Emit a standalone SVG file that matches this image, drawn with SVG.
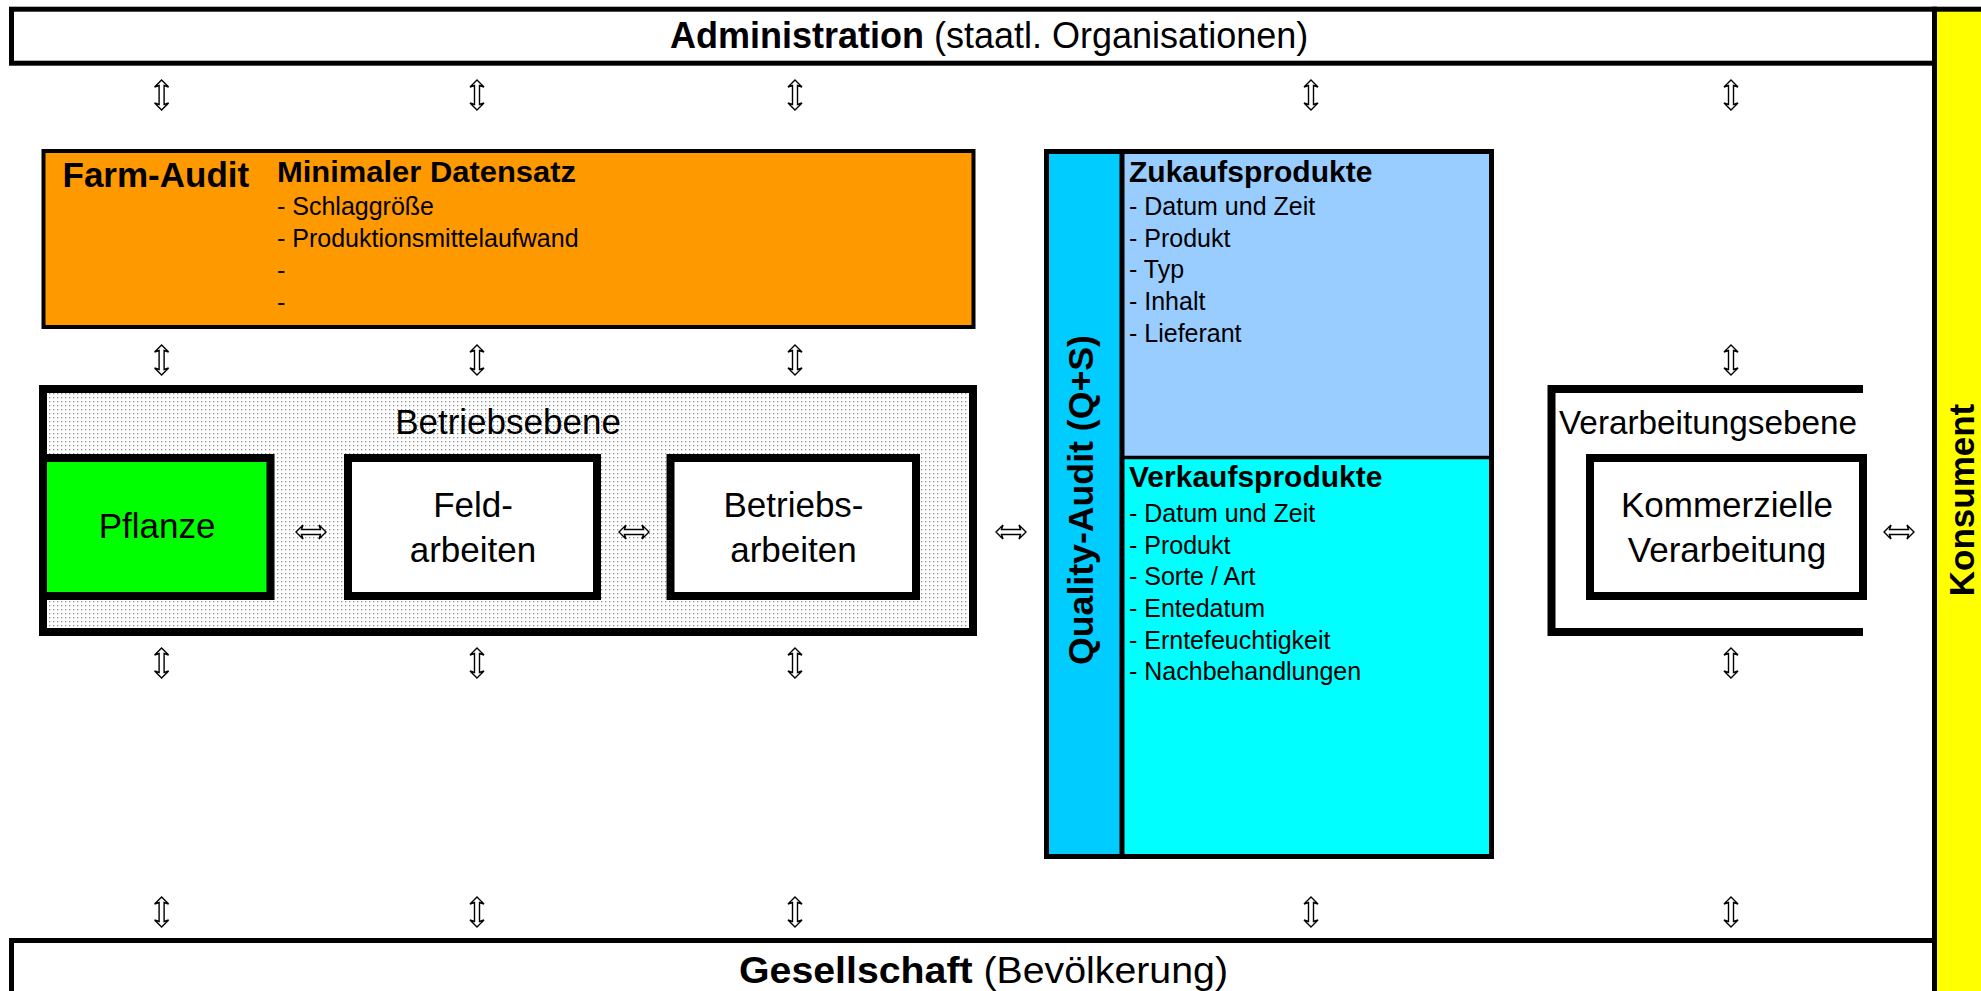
<svg xmlns="http://www.w3.org/2000/svg" width="1981" height="991" viewBox="0 0 1981 991">
<style>
text{font-family:"Liberation Sans",Arial,sans-serif;fill:#000}
.b{font-weight:bold}
.big{font-size:35px}
.hd{font-size:30px;font-weight:bold}
.it{font-size:25px}
.box{stroke:#000;stroke-width:8}
.ar{fill:#fff;stroke:#000;stroke-width:1.4;stroke-linejoin:miter}
</style>
<defs>
<pattern id="dots" width="4" height="4" patternUnits="userSpaceOnUse">
<rect width="4" height="4" fill="#fff"/>
<rect x="1" y="1" width="1.3" height="1.3" fill="#8c8c8c"/>
</pattern>
<path id="va" class="ar" d="M0,-15 L7,-8 L2.5,-9.5 L2.5,9.5 L7,8 L0,15 L-7,8 L-2.5,9.5 L-2.5,-9.5 L-7,-8 Z"/>
<path id="ha" class="ar" d="M-15,0 L-8,-7 L-9.5,-2.5 L9.5,-2.5 L8,-7 L15,0 L8,7 L9.5,2.5 L-9.5,2.5 L-8,7 Z"/>
</defs>
<rect width="1981" height="991" fill="#fff"/>

<g id="administration">
<rect x="11.5" y="9.2" width="1923" height="54" fill="#fff" stroke="#000" stroke-width="5"/>
<text x="670" y="48" font-size="36"><tspan class="b">Administration</tspan> (staatl. Organisationen)</text>
</g>

<g id="gesellschaft">
<rect x="11.5" y="940.5" width="1923" height="80" fill="#fff" stroke="#000" stroke-width="5"/>
<text x="739" y="983" font-size="36" textLength="489" lengthAdjust="spacingAndGlyphs"><tspan class="b">Gesellschaft</tspan> (Bevölkerung)</text>
</g>

<g id="konsument">
<rect x="1934.5" y="9.2" width="60" height="1000" fill="#ffff00" stroke="#000" stroke-width="5"/>
<text transform="translate(1974,500) rotate(-90)" text-anchor="middle" class="b big">Konsument</text>
</g>

<g id="farm-audit">
<rect x="43.5" y="151" width="930" height="176" fill="#ff9900" stroke="#000" stroke-width="4"/>
<text x="62.5" y="187" class="b big">Farm-Audit</text>
<text x="277" y="182" class="hd" textLength="299" lengthAdjust="spacingAndGlyphs">Minimaler Datensatz</text>
<text x="277" y="215" class="it">- Schlaggröße</text>
<text x="277" y="247" class="it">- Produktionsmittelaufwand</text>
<text x="277" y="279" class="it">-</text>
<text x="277" y="311" class="it">-</text>
</g>

<g id="betriebsebene">
<rect x="43" y="389" width="930" height="243" fill="url(#dots)" class="box"/>
<text x="508" y="434" text-anchor="middle" class="big">Betriebsebene</text>
</g>

<g id="pflanze">
<rect x="43" y="458" width="227.5" height="138" fill="#00ff00" class="box"/>
<text x="157" y="538" text-anchor="middle" class="big">Pflanze</text>
</g>

<g id="feldarbeiten">
<rect x="348" y="458" width="249" height="138" fill="#fff" class="box"/>
<text x="473" y="517" text-anchor="middle" class="big">Feld-</text>
<text x="473" y="562" text-anchor="middle" class="big">arbeiten</text>
</g>

<g id="betriebsarbeiten">
<rect x="670.5" y="458" width="245.5" height="138" fill="#fff" class="box"/>
<text x="793.5" y="517" text-anchor="middle" class="big">Betriebs-</text>
<text x="793.5" y="562" text-anchor="middle" class="big">arbeiten</text>
</g>

<g id="quality-audit">
<rect x="1046.5" y="151.5" width="445" height="705" fill="#00ccff" stroke="none"/>
<rect x="1122" y="151.5" width="369.5" height="306" fill="#99ccff"/>
<rect x="1122" y="457.5" width="369.5" height="399" fill="#00ffff"/>
<line x1="1122" y1="151.5" x2="1122" y2="856.5" stroke="#000" stroke-width="5"/>
<line x1="1122" y1="457.5" x2="1491.5" y2="457.5" stroke="#000" stroke-width="3.5"/>
<rect x="1046.5" y="151.5" width="445" height="705" fill="none" stroke="#000" stroke-width="5"/>
<text transform="translate(1093,500) rotate(-90)" text-anchor="middle" class="b big" textLength="330" lengthAdjust="spacingAndGlyphs">Quality-Audit (Q+S)</text>
<text x="1129" y="182" class="hd">Zukaufsprodukte</text>
<text x="1129" y="215" class="it">- Datum und Zeit</text>
<text x="1129" y="246.7" class="it">- Produkt</text>
<text x="1129" y="278.4" class="it">- Typ</text>
<text x="1129" y="310" class="it">- Inhalt</text>
<text x="1129" y="341.7" class="it">- Lieferant</text>
<text x="1129" y="487" class="hd">Verkaufsprodukte</text>
<text x="1129" y="522" class="it">- Datum und Zeit</text>
<text x="1129" y="553.5" class="it">- Produkt</text>
<text x="1129" y="585" class="it">- Sorte / Art</text>
<text x="1129" y="617" class="it">- Entedatum</text>
<text x="1129" y="648.5" class="it">- Erntefeuchtigkeit</text>
<text x="1129" y="680" class="it">- Nachbehandlungen</text>
</g>

<g id="verarbeitungsebene">
<path d="M1863,389 H1551.5 V632 H1863" fill="none" stroke="#000" stroke-width="8"/>
<text x="1559" y="434" font-size="33" textLength="298" lengthAdjust="spacingAndGlyphs">Verarbeitungsebene</text>
</g>

<g id="kommerzielle-verarbeitung">
<rect x="1590" y="458" width="273" height="138" fill="#fff" class="box"/>
<text x="1727" y="517" text-anchor="middle" class="big">Kommerzielle</text>
<text x="1727" y="562" text-anchor="middle" class="big">Verarbeitung</text>
</g>

<g id="connectors">
<use href="#va" x="161.6" y="95"/>
<use href="#va" x="477" y="95"/>
<use href="#va" x="795" y="95"/>
<use href="#va" x="1311" y="95"/>
<use href="#va" x="1731" y="95"/>
<use href="#va" x="161.6" y="360"/>
<use href="#va" x="477" y="360"/>
<use href="#va" x="795" y="360"/>
<use href="#va" x="1731" y="360"/>
<use href="#va" x="161.6" y="663"/>
<use href="#va" x="477" y="663"/>
<use href="#va" x="795" y="663"/>
<use href="#va" x="1731" y="663"/>
<use href="#va" x="161.6" y="912"/>
<use href="#va" x="477" y="912"/>
<use href="#va" x="795" y="912"/>
<use href="#va" x="1311" y="912"/>
<use href="#va" x="1731" y="912"/>
<use href="#ha" x="311" y="532"/>
<use href="#ha" x="634" y="532"/>
<use href="#ha" x="1011" y="532"/>
<use href="#ha" x="1899" y="532"/>
</g>
</svg>
